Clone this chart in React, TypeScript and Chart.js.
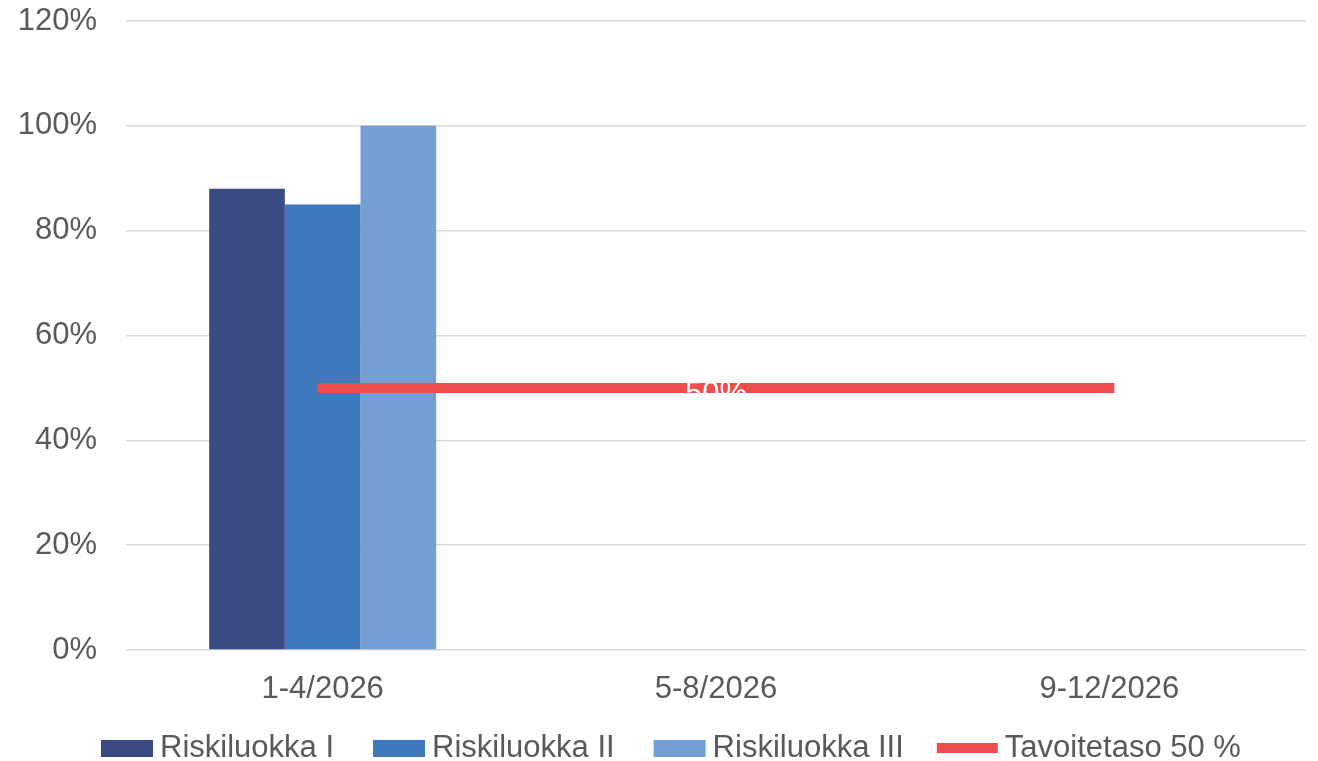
import React, { useEffect, useRef } from "react";
import { Chart, registerables } from "chart.js";

Chart.register(...registerables);

const categories = ["1-4/2026", "5-8/2026", "9-12/2026"];
const seriesNames = ["Riskiluokka I", "Riskiluokka II", "Riskiluokka III"];
const riskI = [88, null, null];
const riskII = [85, null, null];
const riskIII = [100, null, null];
const targetName = "Tavoitetaso 50 %";
const target = [50, 50, 50];
const targetLabel = "50%";
const yTicks = [0, 20, 40, 60, 80, 100, 120];

const barColors = ["#3a4b84", "#3e78bd", "#739fd4"];
const red = "#ef4c4c";
const textColor = "#595959";
const FONT = "'Liberation Sans', Arial, sans-serif";

const labelPlugin = {
  id: "targetLabel",
  afterDatasetsDraw(chart: any) {
    const idx = chart.data.datasets.findIndex((d: any) => d.type === "line");
    if (idx < 0) return;
    const meta = chart.getDatasetMeta(idx);
    const pt = meta.data[1];
    if (!pt) return;
    const ctx = chart.ctx;
    ctx.save();
    ctx.font = `31px ${FONT}`;
    ctx.fillStyle = "#ffffff";
    ctx.textAlign = "center";
    ctx.textBaseline = "alphabetic";
    ctx.fillText(targetLabel, pt.x, pt.y + 15);
    ctx.restore();
  },
};

const legendPlugin = {
  id: "customLegend",
  afterDraw(chart: any) {
    const ctx = chart.ctx;
    ctx.save();
    ctx.font = `31px ${FONT}`;
    ctx.textBaseline = "alphabetic";
    ctx.textAlign = "left";
    const baseline = 757;
    let x = 101;
    seriesNames.forEach((name, i) => {
      ctx.fillStyle = barColors[i];
      ctx.fillRect(x, 740, 52, 17);
      x += 59;
      ctx.fillStyle = textColor;
      ctx.fillText(name, x, baseline);
      x += ctx.measureText(name).width + 39;
    });
    x -= 6;
    ctx.fillStyle = red;
    ctx.fillRect(x, 743, 61, 10);
    x += 68;
    ctx.fillStyle = textColor;
    ctx.fillText(targetName, x, baseline);
    ctx.restore();
  },
};

export default function App() {
  const ref = useRef<HTMLCanvasElement | null>(null);
  useEffect(() => {
    document.body.style.margin = "0";
    if (!ref.current) return;
    const chart = new Chart(ref.current, {
      type: "bar",
      data: {
        labels: categories,
        datasets: [
          {
            type: "line",
            label: targetName,
            data: target,
            borderColor: red,
            backgroundColor: red,
            borderWidth: 10,
            borderCapStyle: "square",
            pointRadius: 0,
            fill: false,
            order: 0,
          } as any,
          ...[riskI, riskII, riskIII].map((d, i) => ({
            type: "bar",
            label: seriesNames[i],
            data: d,
            backgroundColor: barColors[i],
            categoryPercentage: 0.577,
            barPercentage: 1,
            order: 1,
          })),
        ],
      },
      options: {
        animation: false,
        responsive: true,
        maintainAspectRatio: false,
        layout: { padding: { top: 21, right: 12, left: 0, bottom: 0 } },
        plugins: {
          legend: { display: false },
          tooltip: { enabled: false },
        },
        scales: {
          x: {
            grid: { display: false, drawTicks: false },
            border: { display: false },
            ticks: {
              color: textColor,
              font: { family: FONT, size: 31 },
              padding: 21,
              maxRotation: 0,
            },
            afterFit(scale: any) {
              scale.height = 111;
              scale.paddingLeft = 0;
              scale.paddingRight = 0;
            },
          },
          y: {
            min: 0,
            max: 120,
            afterBuildTicks(scale: any) {
              scale.ticks = yTicks.map((v) => ({ value: v }));
            },
            grid: { color: "#d9d9d9", lineWidth: 1.5, drawTicks: false },
            border: { display: false },
            ticks: {
              color: textColor,
              font: { family: FONT, size: 31 },
              padding: 29,
              callback: (v: any) => `${v}%`,
            },
            afterFit(scale: any) {
              scale.width = 126;
              scale.paddingTop = 0;
              scale.paddingBottom = 0;
            },
          },
        },
      },
      plugins: [labelPlugin, legendPlugin],
    });
    return () => chart.destroy();
  }, []);
  return (
    <div style={{ position: "absolute", left: 0, top: 0, width: 1318, height: 761 }}>
      <canvas ref={ref} />
    </div>
  );
}
